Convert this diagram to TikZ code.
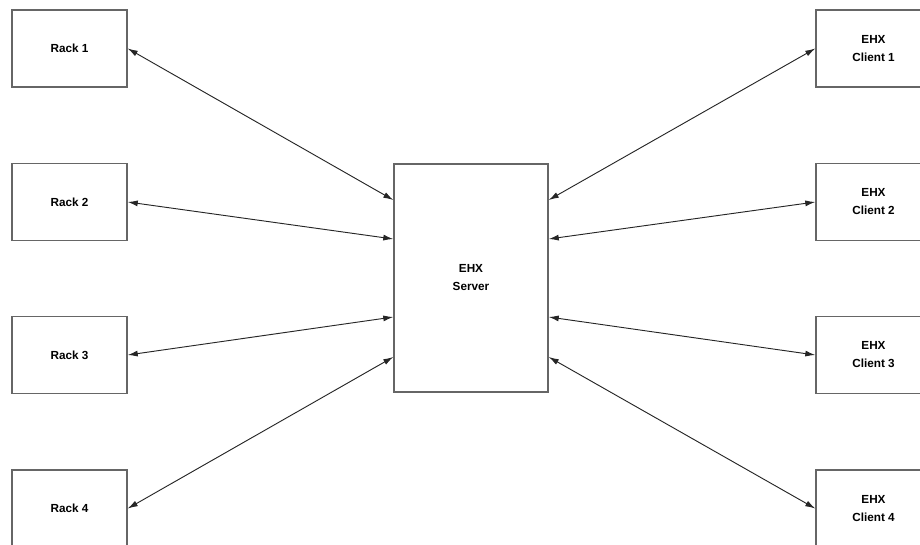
\documentclass[tikz,border=0pt]{standalone}
\usepackage{fontspec}
\setmainfont{Liberation Sans}
\usetikzlibrary{arrows.meta,calc}
\tikzset{
    unit/.style={draw=black!60, line width=1.1pt, fill=white, minimum width=86.25pt, minimum height=57.75pt,
        align=center, inner sep=0pt, font=\bfseries\fontsize{8.8}{13.5}\selectfont},
    link/.style={{Latex[length=7.5pt,width=4.5pt]}-{Latex[length=7.5pt,width=4.5pt]}, line width=0.7pt, black!85}
}
\begin{document}
\begin{tikzpicture}[x=0.75pt, y=-0.75pt]
    \useasboundingbox (0,0) rectangle (920,545);

    % Server
    \node[unit, minimum width=115.5pt, minimum height=171pt] (srv) at (471,278) {EHX\\Server};

    % Racks und Clients
    \foreach \i/\y/\d in {1/48.5/-78, 2/202/-39, 3/355/39, 4/508.5/79} {
        \node[unit] (rack\i) at (69.5,\y) {Rack \i};
        \node[unit] (cl\i) at (873.5,\y) {EHX\\Client \i};
        \draw[link] (rack\i.east) -- ($(srv.west)+(0,\d)$);
        \draw[link] (cl\i.west) -- ($(srv.east)+(0,\d)$);
    }
\end{tikzpicture}
\end{document}
